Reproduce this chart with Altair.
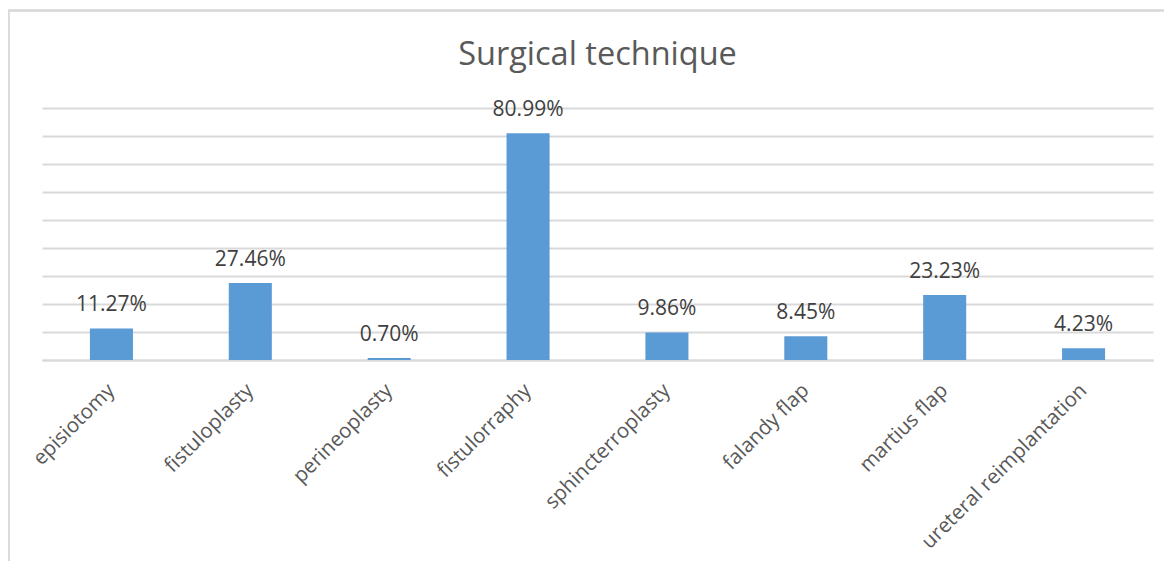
import altair as alt
import pandas as pd

categories = ["episiotomy", "fistuloplasty", "perineoplasty", "fistulorraphy",
              "sphincterroplasty", "falandy flap", "martius flap", "ureteral reimplantation"]
values = [11.27, 27.46, 0.70, 80.99, 9.86, 8.45, 23.23, 4.23]

df = pd.DataFrame({"technique": categories, "value": values})

FONT = "Open Sans"
TEXT = "#595959"
GRID = "#D9D9D9"

x = alt.X("technique:N", sort=categories, title=None,
          scale=alt.Scale(paddingInner=0.69, paddingOuter=0.345),
          axis=alt.Axis(labelAngle=-45, labelAlign="right", labelBaseline="middle",
                        labelFont=FONT, labelFontSize=20.5, labelColor=TEXT,
                        labelPadding=27, ticks=False, domain=True, domainColor=GRID,
                        domainWidth=2, grid=False, labelOverlap=False, labelLimit=400))
y = alt.Y("value:Q", title=None,
          scale=alt.Scale(domain=[0, 90], nice=False),
          axis=alt.Axis(values=list(range(0, 91, 10)), labels=False, ticks=False,
                        domain=False, grid=True, gridColor=GRID, gridWidth=2))

base = alt.Chart(df).encode(x=x, y=y)

bars = base.mark_bar(color="#5B9BD5")
labels = base.transform_calculate(
    lab="format(datum.value, '.2f') + '%'"
).mark_text(font=FONT, fontSize=21, color="#404040", baseline="alphabetic", dy=-17).encode(
    text="lab:N")

frame_v = alt.Chart(df).mark_rule(color=GRID, strokeWidth=1.5).encode(
    x=alt.value(-33.5), y=alt.value(-97.5), y2=alt.value(470))
frame_h = alt.Chart(df).mark_rule(color=GRID, strokeWidth=1.5).encode(
    x=alt.value(-33.5), x2=alt.value(1140), y=alt.value(-97.5))

chart = alt.layer(frame_v, frame_h, bars, labels).properties(
    width=1111, height=252,
    background="white",
    title=alt.TitleParams("Surgical technique", font=FONT, fontSize=32.5, fontWeight="normal",
                          color=TEXT, anchor="middle", baseline="alphabetic", offset=-88),
    autosize=alt.AutoSizeParams(type="none"),
    padding={"left": 34, "top": 100, "right": 11, "bottom": 201},
).configure_view(stroke="transparent", strokeWidth=0)

chart.save("out.html", embed_options={"renderer": "svg", "actions": False})
